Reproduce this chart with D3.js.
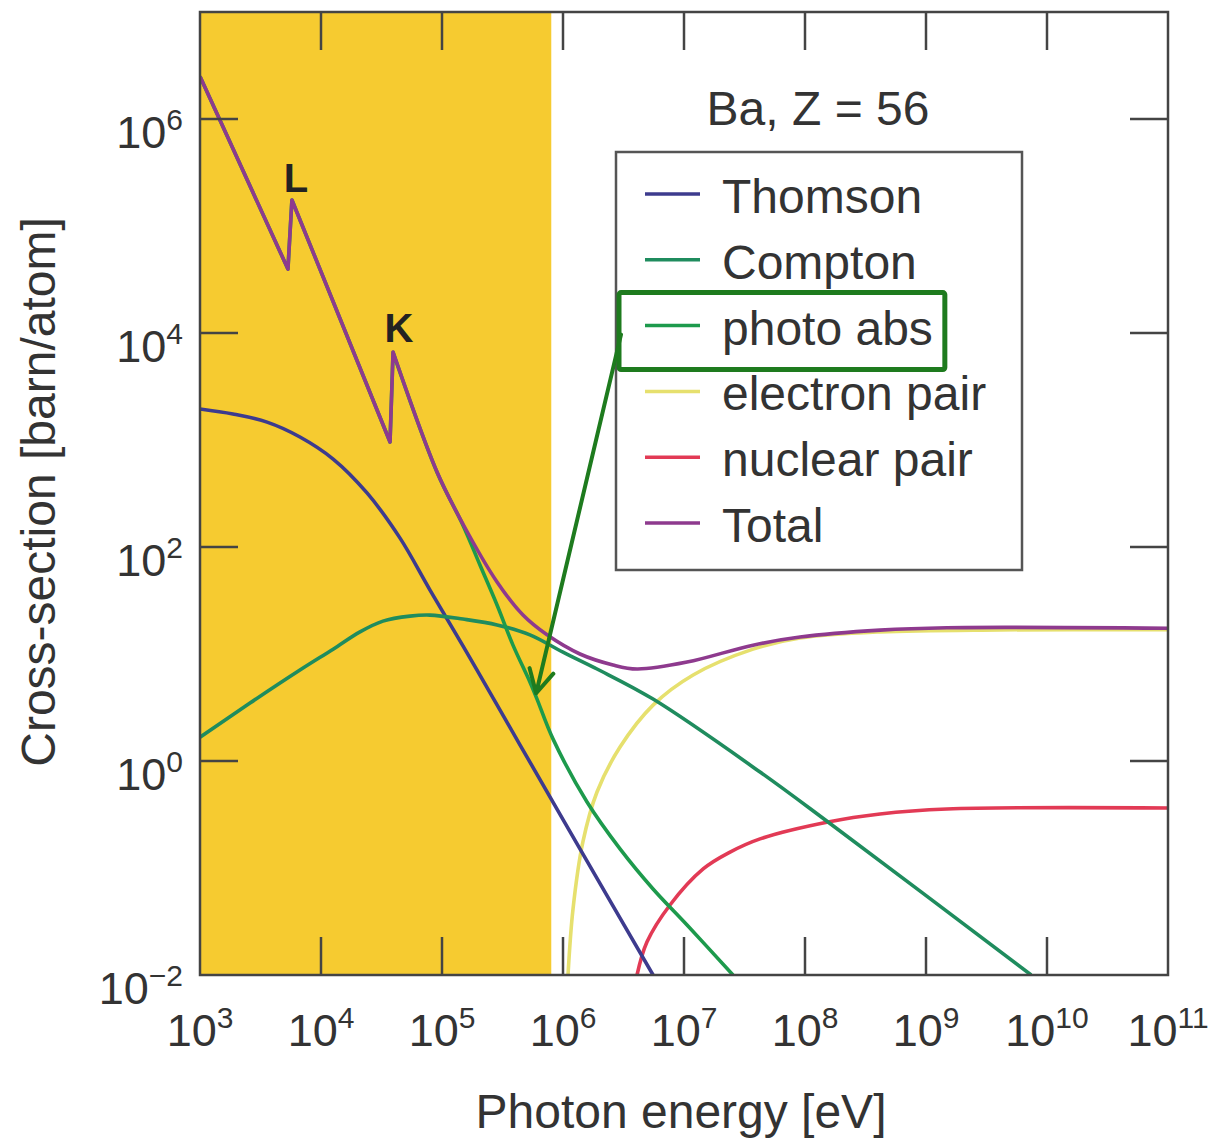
<!DOCTYPE html>
<html>
<head>
<meta charset="utf-8">
<script src="https://cdn.jsdelivr.net/npm/d3@7"></script>
<style>
  body { margin: 0; background: #fff; }
  svg { display: block; font-family: "Liberation Sans", Arial, Helvetica, sans-serif; }
</style>
</head>
<body>
<svg id="chart" width="1216" height="1141"></svg>
<script>
// photon energy in eV, cross-section in barn/atom
let xDecades = [3, 4, 5, 6, 7, 8, 9, 10, 11];
let yDecades = [-2, 0, 2, 4, 6];
let shadeMaxEnergy = 8e5;

let seriesNames = ["Thomson", "Compton", "photo abs", "electron pair", "nuclear pair", "Total"];
let seriesColors = ["#3d3b8e", "#1f8c5e", "#1d9a4c", "#e6e06e", "#e23a55", "#8e3a8e"];

let thomson = [[1e3, 1950], [1.87e3, 1750], [3.58e3, 1470], [6.7e3, 1067], [1.26e4, 664], [2.4e4, 320],
    [4.5e4, 121], [7.96e4, 39.6], [1.49e5, 11.9], [2.85e5, 3.34], [4.42e5, 1.41], [1.58e6, 0.116], [5.55e6, 0.01]];

let compton = [[1e3, 1.67], [2.59e3, 3.48], [6.7e3, 7.08], [1.26e4, 11.1], [2.1e4, 16.1], [3.25e4, 20.3],
    [5.44e4, 22.6], [7.96e4, 23.1], [1.49e5, 21.2], [2.85e5, 18.7], [5.33e5, 15.1], [1e6, 10.4],
    [1.91e6, 7.24], [5.55e6, 3.79], [4.25e7, 0.789], [1.55e8, 0.269], [7.4e9, 0.01]];

// pieces split at the L and K absorption edges
let photoAbs = [
    [[1e3, 2.5e6], [5.33e3, 3.96e4]],
    [[5.75e3, 1.75e5], [3.72e4, 958]],
    [[3.94e4, 6.6e3], [9.1e4, 500], [1.49e5, 160], [2.06e5, 67.9], [2.85e5, 28.7], [3.86e5, 12.1],
     [5.33e5, 5.47], [6.1e5, 3.79], [8.26e5, 1.61], [1.58e6, 0.414], [2.96e6, 0.151], [5.55e6, 0.0637],
     [1.06e7, 0.0293], [2.54e7, 0.01]]
];

let electronPair = [[1.1e6, 0.01], [1.21e6, 0.0414], [1.46e6, 0.175], [1.91e6, 0.513], [2.96e6, 1.35],
    [5.55e6, 3.33], [1.19e7, 6.37], [3.72e7, 11.1], [9.1e7, 14.1], [4.17e8, 16.1], [4.1e9, 16.8], [1e11, 16.9]];

let nuclearPair = [[4.09e6, 0.01], [4.94e6, 0.0203], [7.66e6, 0.0451], [1.44e7, 0.098], [2.38e7, 0.14],
    [4.25e7, 0.187], [1.55e8, 0.269], [4.17e8, 0.32], [1.49e9, 0.356], [1e11, 0.364]];

let total = [
    [[1e3, 2.5e6], [5.33e3, 3.96e4]],
    [[5.75e3, 1.75e5], [3.72e4, 958]],
    [[3.94e4, 6.64e3], [9.1e4, 502], [1.49e5, 164], [2.85e5, 47.1], [4.67e5, 23.1], [7.38e5, 15.1],
     [1.38e6, 10.0], [2.59e6, 7.9], [4.09e6, 7.24], [1.06e7, 8.4], [3.72e7, 12.1], [9.1e7, 14.4],
     [4.17e8, 16.7], [1.49e9, 17.6], [1e11, 17.4]]
];

let edgeLabels = [{ text: "L", E: 6.2e3, s: 2.08e5 }, { text: "K", E: 4.4e4, s: 8.2e3 }];
let highlightIndex = 2;
let arrowTarget = [6.0e5, 4.3];

let svg = d3.select('#chart');
let plot = { left: 200, right: 1168, top: 12, bottom: 975 };

let xScale = d3.scaleLog().domain([1e3, 1e11]).range([plot.left, plot.right]);
let yScale = d3.scaleLog().domain([1e-2, 1e7]).range([plot.bottom, plot.top]);

svg.append('defs').append('clipPath').attr('id', 'clip')
    .append('rect')
    .attr('x', plot.left).attr('y', plot.top)
    .attr('width', plot.right - plot.left).attr('height', plot.bottom - plot.top);

// shaded low energy band
svg.append('rect')
    .attr('x', xScale(1e3))
    .attr('y', plot.top)
    .attr('width', xScale(shadeMaxEnergy) - xScale(1e3))
    .attr('height', plot.bottom - plot.top)
    .style('fill', '#f6cb30');

let line = d3.line()
    .x(d => xScale(d[0]))
    .y(d => yScale(d[1]))
    .curve(d3.curveCatmullRom.alpha(0.5));

function piecePath(pieces) {
    return pieces.map((p, i) => {
        let d = line(p);
        return i === 0 ? d : 'L' + d.slice(1);
    }).join('');
}

let curves = [
    { pieces: [electronPair], color: seriesColors[3] },
    { pieces: [nuclearPair], color: seriesColors[4] },
    { pieces: [thomson], color: seriesColors[0] },
    { pieces: [compton], color: seriesColors[1] },
    { pieces: photoAbs, color: seriesColors[2] },
    { pieces: total, color: seriesColors[5] }
];

let g = svg.append('g').attr('clip-path', 'url(#clip)');
g.selectAll('.curve').data(curves)
    .enter().append('path')
    .attr('class', 'curve')
    .attr('d', d => piecePath(d.pieces))
    .style('fill', 'none')
    .style('stroke', d => d.color)
    .style('stroke-width', 3.6)
    .style('stroke-linejoin', 'round');

// edge labels
svg.selectAll('.edge').data(edgeLabels)
    .enter().append('text')
    .attr('class', 'edge')
    .attr('x', d => xScale(d.E))
    .attr('y', d => yScale(d.s))
    .attr('text-anchor', 'middle')
    .style('font-size', '40px')
    .style('font-weight', 'bold')
    .style('fill', '#222')
    .text(d => d.text);

// ticks (inward, on all four sides)
let tickLen = 38;
let frameColor = '#444';
let inner = xDecades.slice(1, -1);
let yInner = yDecades.slice(1);
let ticks = svg.append('g').style('stroke', frameColor).style('stroke-width', 2.5);
inner.forEach(e => {
    let x = xScale(Math.pow(10, e));
    ticks.append('line').attr('x1', x).attr('x2', x).attr('y1', plot.bottom).attr('y2', plot.bottom - tickLen);
    ticks.append('line').attr('x1', x).attr('x2', x).attr('y1', plot.top).attr('y2', plot.top + tickLen);
});
yInner.forEach(e => {
    let y = yScale(Math.pow(10, e));
    ticks.append('line').attr('x1', plot.left).attr('x2', plot.left + tickLen).attr('y1', y).attr('y2', y);
    ticks.append('line').attr('x1', plot.right).attr('x2', plot.right - tickLen).attr('y1', y).attr('y2', y);
});

svg.append('rect')
    .attr('x', plot.left).attr('y', plot.top)
    .attr('width', plot.right - plot.left).attr('height', plot.bottom - plot.top)
    .style('fill', 'none')
    .style('stroke', frameColor)
    .style('stroke-width', 2.5);

// tick labels 10^n
function powLabel(text, exp) {
    text.append('tspan').text('10');
    text.append('tspan')
        .attr('dy', '-0.6em')
        .style('font-size', '30px')
        .text(exp < 0 ? '\u2212' + (-exp) : exp);
}

xDecades.forEach(e => {
    let t = svg.append('text')
        .attr('x', xScale(Math.pow(10, e)))
        .attr('y', 1046)
        .attr('text-anchor', 'middle')
        .style('font-size', '45px')
        .style('fill', '#333');
    powLabel(t, e);
});

yDecades.forEach(e => {
    let t = svg.append('text')
        .attr('x', 183)
        .attr('y', yScale(Math.pow(10, e)) + 29)
        .attr('text-anchor', 'end')
        .style('font-size', '45px')
        .style('fill', '#333');
    powLabel(t, e);
});

// axis titles
svg.append('text')
    .attr('x', 681)
    .attr('y', 1128)
    .attr('text-anchor', 'middle')
    .style('font-size', '48px')
    .style('fill', '#333')
    .text('Photon energy [eV]');

svg.append('text')
    .attr('transform', 'translate(55,492) rotate(-90)')
    .attr('text-anchor', 'middle')
    .style('font-size', '48px')
    .style('fill', '#333')
    .text('Cross-section [barn/atom]');

svg.append('text')
    .attr('x', 818)
    .attr('y', 125)
    .attr('text-anchor', 'middle')
    .style('font-size', '48px')
    .style('fill', '#333')
    .text('Ba, Z = 56');

// legend
let legend = { x: 616, y: 152, w: 406, h: 418, first: 213, step: 65.8 };
svg.append('rect')
    .attr('x', legend.x).attr('y', legend.y)
    .attr('width', legend.w).attr('height', legend.h)
    .style('fill', '#fff')
    .style('stroke', '#555')
    .style('stroke-width', 2.5);

let rows = svg.selectAll('.legend-row').data(seriesNames)
    .enter().append('g')
    .attr('class', 'legend-row')
    .attr('transform', (d, i) => 'translate(0,' + (legend.first + i * legend.step) + ')');

rows.append('line')
    .attr('x1', 645).attr('x2', 700)
    .attr('y1', -19).attr('y2', -19)
    .style('stroke', (d, i) => seriesColors[i])
    .style('stroke-width', 3.5);

rows.append('text')
    .attr('x', 722)
    .attr('y', 0)
    .style('font-size', '48px')
    .style('fill', '#333')
    .text(d => d);

// green highlight box + arrow
let annColor = '#1e7b1e';
let rowBase = legend.first + highlightIndex * legend.step;
let textLen = rows.filter((d, i) => i === highlightIndex).select('text').node().getComputedTextLength();
let box = { x: 619, y: rowBase - 52, w: 722 + textLen + 12 - 619, h: 77 };
svg.append('rect')
    .attr('x', box.x).attr('y', box.y)
    .attr('width', box.w).attr('height', box.h)
    .attr('rx', 2)
    .style('fill', 'none')
    .style('stroke', annColor)
    .style('stroke-width', 5);

let start = [box.x + 2, rowBase - 10];
let tip = [xScale(arrowTarget[0]), yScale(arrowTarget[1])];
let ang = Math.atan2(start[1] - tip[1], start[0] - tip[0]);
let barb = 26, spread = 28 * Math.PI / 180;
let arrowPath = 'M' + start[0] + ',' + start[1] + 'L' + tip[0] + ',' + tip[1]
    + 'M' + (tip[0] + barb * Math.cos(ang - spread)) + ',' + (tip[1] + barb * Math.sin(ang - spread))
    + 'L' + tip[0] + ',' + tip[1]
    + 'L' + (tip[0] + barb * Math.cos(ang + spread)) + ',' + (tip[1] + barb * Math.sin(ang + spread));
svg.append('path')
    .attr('d', arrowPath)
    .style('fill', 'none')
    .style('stroke', annColor)
    .style('stroke-width', 4)
    .style('stroke-linecap', 'round')
    .style('stroke-linejoin', 'round');
</script>
</body>
</html>
